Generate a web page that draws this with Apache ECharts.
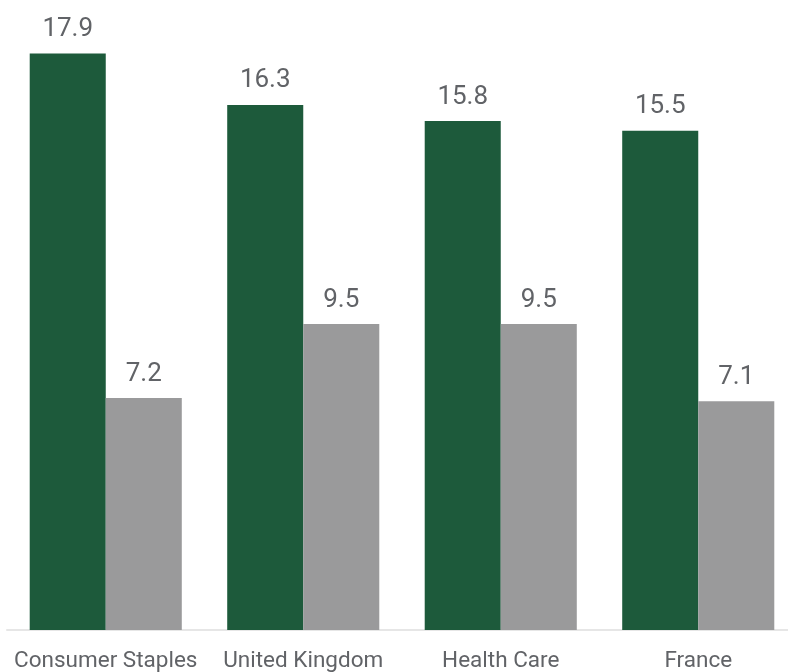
<!DOCTYPE html>
<html>
<head>
<meta charset="utf-8">
<script src="https://cdn.jsdelivr.net/npm/echarts@6/dist/echarts.min.js"></script>
<style>
  html, body { margin: 0; padding: 0; background: #fff; }
  #chart { width: 788px; height: 672px; }
</style>
</head>
<body>
<div id="chart"></div>
<script>
const categories = ['Consumer Staples', 'United Kingdom', 'Health Care', 'France'];
const greenValues = [17.9, 16.3, 15.8, 15.5];
const grayValues = [7.2, 9.5, 9.5, 7.1];

const chart = echarts.init(document.getElementById('chart'));

const labelStyle = {
    show: true,
    position: 'top',
    distance: 11,
    fontFamily: 'Roboto',
    fontSize: 26,
    color: '#616367',
    formatter: p => p.value.toFixed(1),
};

chart.setOption({
    animation: false,
    grid: {
        left: 7,
        top: 18,
        width: 790,
        bottom: 42,
        containLabel: false,
        outerBoundsMode: 'none',
    },
    xAxis: {
        type: 'category',
        data: categories,
        axisLine: { show: true, lineStyle: { color: '#e6e6e6', width: 2 } },
        axisTick: { show: false },
        axisLabel: {
            fontFamily: 'Roboto',
            fontSize: 22.5,
            color: '#616367',
            margin: 20,
            interval: 0,
        },
    },
    yAxis: {
        type: 'value',
        min: 0,
        max: 19,
        show: false,
        splitLine: { show: false },
    },
    series: [
        {
            name: 'A',
            type: 'bar',
            data: greenValues,
            barGap: '0%',
            barCategoryGap: '23%',
            itemStyle: { color: '#1d5a3b' },
            label: labelStyle,
        },
        {
            name: 'B',
            type: 'bar',
            data: grayValues,
            barGap: '0%',
            barCategoryGap: '23%',
            itemStyle: { color: '#9a9a9b' },
            label: labelStyle,
        },
    ],
});
</script>
</body>
</html>
